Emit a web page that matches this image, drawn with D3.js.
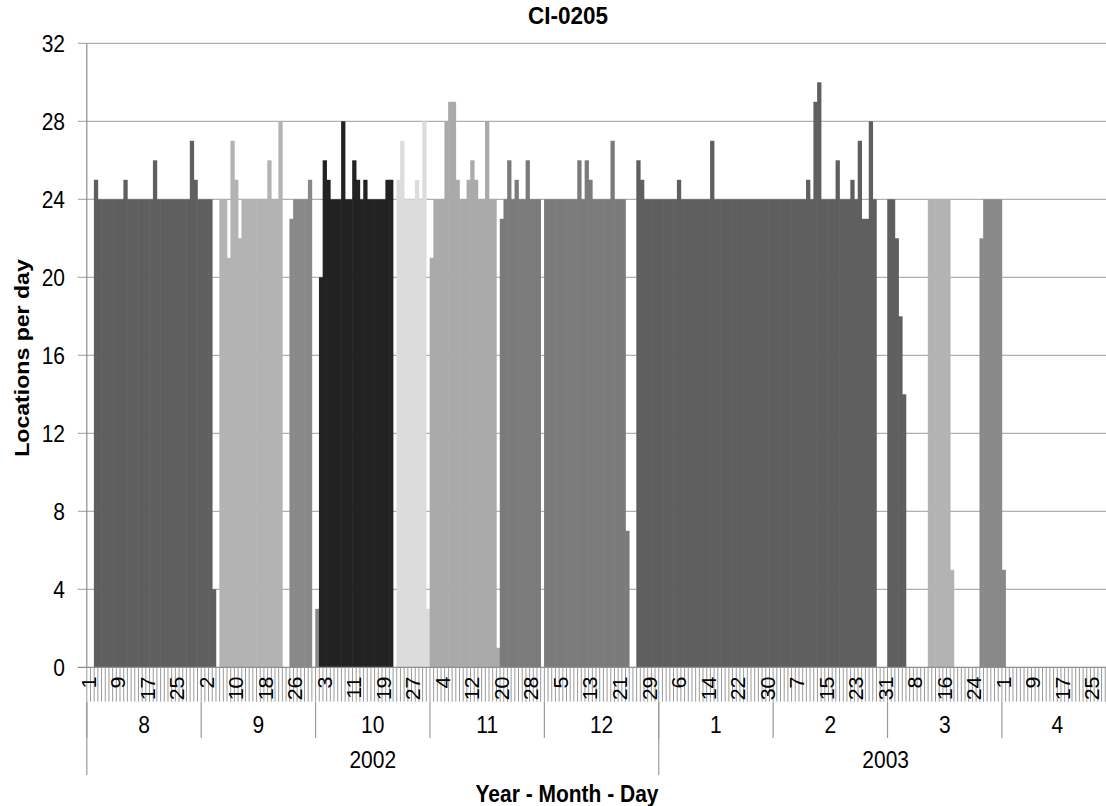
<!DOCTYPE html>
<html>
<head>
<meta charset="utf-8">
<script src="https://cdn.jsdelivr.net/npm/d3@7"></script>
<style>
  html, body { margin: 0; padding: 0; background: #ffffff; }
  svg { display: block; }
  text { font-family: "Liberation Sans", Arial, sans-serif; fill: #000; }
</style>
</head>
<body>
<svg id="chart" width="1106" height="806"></svg>
<script>
// ---------------- data ----------------
const chartTitle = "CI-0205";
const yAxisTitle = "Locations per day";
const xAxisTitle = "Year - Month - Day";

const yearLabels = ["2002", "2003"];
const yearMonthCounts = [5, 4];
const monthLabels = ["8", "9", "10", "11", "12", "1", "2", "3", "4"];
const monthDayCounts = [31, 31, 31, 31, 31, 31, 31, 31, 30];
const yTicks = [0, 4, 8, 12, 16, 20, 24, 28, 32];

// each deployment: first day (year-month-day) and its daily counts (null = no bar)
const dep1Start = "2002-8-3";
const dep1 = [25,24,24,24,24,24,24,24,25,24,24,24,24,24,24,24,26,24,24,24,24,24,24,24,24,24,27,25,24,24,24,24,4];
const dep2Start = "2002-9-6";
const dep2 = [24,24,21,27,25,22,24,24,24,24,24,24,24,26,24,24,28];
const dep3Start = "2002-9-25";
const dep3 = [23,24,24,24,24,25,null,3];
const dep4Start = "2002-10-2";
const dep4 = [20,26,25,24,24,24,28,24,24,26,25,24,25,24,24,24,24,24,25,25];
const dep5Start = "2002-10-23";
const dep5 = [25,27,24,24,24,25,24,28,3];
const dep6Start = "2002-11-1";
const dep6 = [21,24,24,24,28,29,29,25,24,24,25,26,25,24,24,28,24,24,1];
const dep7Start = "2002-11-20";
const dep7 = [23,24,26,24,25,24,24,26,24,24,24,null,24,24,24,24,24,24,24,24,24,26,24,26,25,24,24,24,24,24,27,24,24,24,7];
const dep8Start = "2002-12-26";
const dep8 = [26,25,24,24,24,24,24,24,24,24,24,25,24,24,24,24,24,24,24,24,27,
              24,24,24,24,24,24,24,24,24,24,24,24,24,24,24,24,24,24,24,24,24,24,24,24,24,
              25,24,29,30,24,24,24,24,26,24,24,24,25,24,27,23,23,28,24];
const dep9Start = "2003-3-1";
const dep9 = [24,24,22,18,14];
const dep10Start = "2003-3-12";
const dep10 = [24,24,24,24,24,24,5];
const dep11Start = "2003-3-26";
const dep11 = [22,24,24,24,24,24,5];

// ---------------- styles ----------------
const depColors = ["#5f5f5f", "#b3b3b3", "#898989", "#222222", "#dcdcdc",
                   "#aaaaaa", "#7b7b7b", "#5f5f5f", "#5f5f5f", "#b3b3b3", "#898989"];
const textStretch = 1.1;

// ---------------- build categories ----------------
const categories = [];
let mi = 0;
yearLabels.forEach((yr, yi) => {
  for (let k = 0; k < yearMonthCounts[yi]; k++, mi++) {
    for (let d = 1; d <= monthDayCounts[mi]; d++) {
      categories.push({ key: `${yr}-${monthLabels[mi]}-${d}`, day: d, month: mi, year: yi });
    }
  }
});
const keys = categories.map(c => c.key);

const deployments = [
  [dep1Start, dep1], [dep2Start, dep2], [dep3Start, dep3], [dep4Start, dep4],
  [dep5Start, dep5], [dep6Start, dep6], [dep7Start, dep7], [dep8Start, dep8],
  [dep9Start, dep9], [dep10Start, dep10], [dep11Start, dep11]
];
const barData = [];
deployments.forEach(([start, vals], di) => {
  const s = keys.indexOf(start);
  vals.forEach((v, j) => {
    if (v !== null) barData.push({ key: keys[s + j], value: v, dep: di });
  });
});

// ---------------- layout ----------------
const plotLeft = 86.8, dayW = 3.69;
const plotRight = plotLeft + keys.length * dayW;
const plotTop = 43.3, plotBottom = 667.3;

const x = d3.scaleBand().domain(keys).range([plotLeft, plotRight]).padding(0);
const y = d3.scaleLinear().domain([0, 32]).range([plotBottom, plotTop]);

const svg = d3.select("#chart");
const st = `scale(1,${textStretch})`;

// gridlines (with outside tick marks)
svg.append("g").selectAll("line").data(yTicks.filter(t => t > 0)).join("line")
  .attr("x1", plotLeft - 9).attr("x2", plotRight)
  .attr("y1", d => y(d)).attr("y2", d => y(d))
  .attr("stroke", "#b0b0b0").attr("stroke-width", 1.2);

// bars
svg.append("g").selectAll("rect").data(barData).join("rect")
  .attr("x", d => x(d.key) - 0.3)
  .attr("width", x.bandwidth() + 0.6)
  .attr("y", d => y(d.value))
  .attr("height", d => y(0) - y(d.value))
  .attr("fill", d => depColors[d.dep]);

// axes lines
svg.append("line").attr("x1", plotLeft).attr("x2", plotLeft)
  .attr("y1", plotTop).attr("y2", plotBottom).attr("stroke", "#8c8c8c").attr("stroke-width", 1.2);
svg.append("line").attr("x1", plotLeft - 9).attr("x2", plotRight)
  .attr("y1", plotBottom).attr("y2", plotBottom).attr("stroke", "#8c8c8c").attr("stroke-width", 1.2);

// y tick labels
svg.append("g").selectAll("text").data(yTicks).join("text")
  .attr("transform", d => `translate(65,${y(d)}) ${st}`).attr("dy", "0.36em")
  .attr("text-anchor", "end").style("font-size", "21px")
  .text(d => d);

// day tick marks (every category boundary)
const dayRowBottom = 701.7, monthRowBottom = 738, yearRowBottom = 775;
const boundaries = d3.range(keys.length + 1).map(i => plotLeft + i * dayW);
svg.append("g").selectAll("line").data(boundaries).join("line")
  .attr("x1", d => d).attr("x2", d => d)
  .attr("y1", plotBottom).attr("y2", dayRowBottom)
  .attr("stroke", "#9a9a9a").attr("stroke-width", 1);

// day labels, every 8th category
svg.append("g").selectAll("text").data(categories.filter((c, i) => i % 8 === 0)).join("text")
  .attr("transform", d => `translate(${x(d.key) + x.bandwidth() / 2 + 7},${676.5}) ${st} rotate(-90)`)
  .attr("text-anchor", "end").style("font-size", "19.5px")
  .text(d => d.day);

// month separators and labels
let acc = 0;
const monthStarts = monthDayCounts.map(n => { const s = acc; acc += n; return s; });
svg.append("g").selectAll("line").data(monthStarts).join("line")
  .attr("x1", d => x(keys[d])).attr("x2", d => x(keys[d]))
  .attr("y1", dayRowBottom).attr("y2", monthRowBottom)
  .attr("stroke", "#9a9a9a").attr("stroke-width", 1.2);
svg.append("g").selectAll("text").data(monthLabels).join("text")
  .attr("transform", (d, i) => `translate(${plotLeft + (monthStarts[i] + monthDayCounts[i] / 2) * dayW},732.5) ${st}`)
  .attr("text-anchor", "middle").style("font-size", "21px")
  .text(d => d);

// year separators and labels
let macc = 0;
const yearStartMonths = yearMonthCounts.map(n => { const s = macc; macc += n; return s; });
svg.append("g").selectAll("line").data(yearStartMonths).join("line")
  .attr("x1", d => x(keys[monthStarts[d]])).attr("x2", d => x(keys[monthStarts[d]]))
  .attr("y1", dayRowBottom).attr("y2", yearRowBottom)
  .attr("stroke", "#9a9a9a").attr("stroke-width", 1.2);
svg.append("g").selectAll("text").data(yearLabels).join("text")
  .attr("transform", (d, i) => {
    const s = monthStarts[yearStartMonths[i]];
    const n = d3.sum(monthDayCounts.slice(yearStartMonths[i], yearStartMonths[i] + yearMonthCounts[i]));
    return `translate(${plotLeft + (s + n / 2) * dayW},768) ${st}`;
  })
  .attr("text-anchor", "middle").style("font-size", "21px")
  .text(d => d);

// titles
svg.append("text").attr("transform", `translate(568,24) ${st}`).attr("text-anchor", "middle")
  .style("font-size", "22.5px").style("font-weight", "bold").text(chartTitle);
svg.append("text").attr("transform", `translate(29,358) ${st} rotate(-90)`).attr("text-anchor", "middle")
  .style("font-size", "21px").style("font-weight", "bold").text(yAxisTitle);
svg.append("text").attr("transform", `translate(567,802) ${st}`).attr("text-anchor", "middle")
  .style("font-size", "21px").style("font-weight", "bold").text(xAxisTitle);
</script>
</body>
</html>
